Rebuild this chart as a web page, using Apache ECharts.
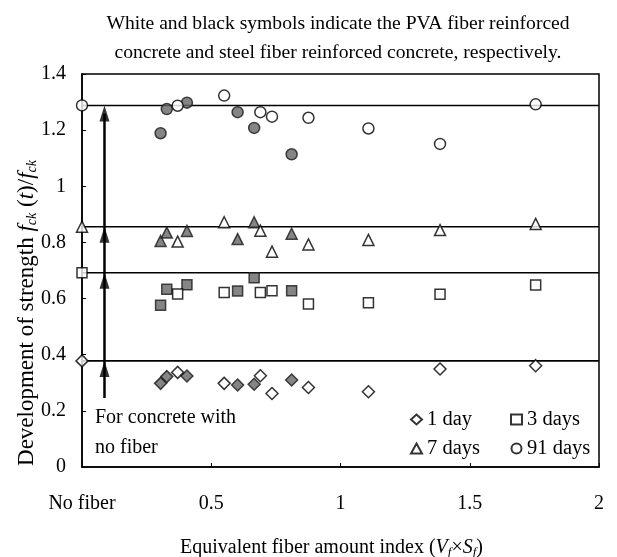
<!DOCTYPE html>
<html>
<head>
<meta charset="utf-8">
<script src="https://cdn.jsdelivr.net/npm/echarts@6/dist/echarts.min.js"></script>
<style>
  html, body { margin: 0; padding: 0; background: #fff; }
  #chart { width: 617px; height: 557px; }
</style>
</head>
<body>
<div id="chart"></div>
<script>
// Equivalent fiber amount index (Vf x Sf) of each mix
const steelX = [0.304, 0.328, 0.406, 0.602, 0.666, 0.811];
const pvaX = [0.370, 0.550, 0.690, 0.735, 0.876, 1.108, 1.385, 1.755];

// Strength ratio fck(t)/fck, steel fiber reinforced concrete (black symbols)
const steel1d = [0.298, 0.322, 0.324, 0.292, 0.295, 0.310];
const steel3d = [0.576, 0.633, 0.649, 0.627, 0.674, 0.628];
const steel7d = [0.805, 0.835, 0.841, 0.812, 0.872, 0.831];
const steel91d = [1.189, 1.275, 1.298, 1.264, 1.208, 1.114];

// Strength ratio fck(t)/fck, PVA fiber reinforced concrete (white symbols)
const pva1d = [0.337, 0.298, 0.325, 0.262, 0.283, 0.268, 0.349, 0.361];
const pva3d = [0.616, 0.622, 0.622, 0.628, 0.581, 0.585, 0.615, 0.648];
const pva7d = [0.803, 0.872, 0.842, 0.767, 0.793, 0.809, 0.844, 0.866];
const pva91d = [1.287, 1.323, 1.264, 1.248, 1.244, 1.206, 1.151, 1.292];

// Concrete with no fiber: 1, 3, 7, 91 days
const noFiber = [0.378, 0.692, 0.856, 1.288];

// Ages, legend labels and symbols
const ages = ['1 day', '3 days', '7 days', '91 days'];
const symbols = ['diamond', 'rect', 'triangle', 'circle'];

// Position of the "no fiber" arrow and its lower end
const arrowX = 0.087;
const arrowBottom = 0.246;

// Tick labels
const xTicks = { 0: 'No fiber', 0.5: '0.5', 1: '1', 1.5: '1.5', 2: '2' };

const serif = '"Liberation Serif", "Times New Roman", serif';

const pair = (xs, ys) => xs.map((x, i) => [x, ys[i]]);
const steelSets = [steel1d, steel3d, steel7d, steel91d];
const pvaSets = [pva1d, pva3d, pva7d, pva91d];
const sizes = [12, 10, 11, 11];

const series = [];

// horizontal reference lines at the no-fiber strengths
noFiber.forEach((v, i) => {
  series.push({
    type: 'line',
    name: 'ref' + i,
    data: [[0, v], [2, v]],
    symbol: 'none',
    silent: true,
    lineStyle: { color: '#000', width: 1.6 },
    z: 1
  });
});

// vertical arrow shaft
series.push({
  type: 'line',
  name: 'arrow',
  data: [[arrowX, arrowBottom], [arrowX, noFiber[3] - 0.03]],
  symbol: 'none',
  silent: true,
  lineStyle: { color: '#000', width: 2.5 },
  z: 2
});
// arrow heads touching each reference line
series.push({
  type: 'scatter',
  name: 'arrowheads',
  data: noFiber.map(v => [arrowX, v]),
  symbol: 'triangle',
  symbolSize: [10, 16],
  symbolOffset: [0, 8],
  silent: true,
  itemStyle: { color: '#000' },
  z: 3
});

ages.forEach((age, i) => {
  // steel fiber (filled)
  series.push({
    type: 'scatter',
    name: age + ' steel',
    data: pair(steelX, steelSets[i]),
    symbol: symbols[i],
    symbolSize: sizes[i],
    itemStyle: { color: '#666', borderColor: '#1a1a1a', borderWidth: 1.5 },
    z: 5
  });
  // PVA fiber and plain concrete (open)
  series.push({
    type: 'scatter',
    name: age,
    data: [[0, noFiber[i]]].concat(pair(pvaX, pvaSets[i])),
    symbol: symbols[i],
    symbolSize: sizes[i],
    clip: false,
    itemStyle: { color: '#fff', borderColor: '#000', borderWidth: 1.5 },
    z: 6
  });
});

const legendBase = {
  orient: 'vertical',
  itemWidth: 11,
  itemHeight: 10,
  itemGap: 8,
  selectedMode: false,
  textStyle: { fontFamily: serif, fontSize: 20.5, color: '#000', lineHeight: 21 }
};

const chart = echarts.init(document.getElementById('chart'));
chart.setOption({
  animation: false,
  backgroundColor: '#fff',
  title: {
    text: 'White and black symbols indicate the PVA fiber reinforced\nconcrete and steel fiber reinforced concrete, respectively.',
    left: 333,
    top: 4,
    textAlign: 'center',
    textStyle: { fontFamily: serif, fontSize: 19.6, fontWeight: 'normal', color: '#000', lineHeight: 29 }
  },
  legend: [
    Object.assign({ left: 405, top: 404, data: [
      { name: ages[0], icon: 'diamond' }, { name: ages[2], icon: 'triangle' }] }, legendBase),
    Object.assign({ left: 505, top: 404, data: [
      { name: ages[1], icon: 'rect' }, { name: ages[3], icon: 'circle' }] }, legendBase)
  ],
  grid: {
    left: 82, right: 18, top: 74, bottom: 90,
    outerBoundsMode: 'none',
    containLabel: false,
    show: true, borderColor: '#000', borderWidth: 1.5, backgroundColor: 'transparent'
  },
  xAxis: {
    type: 'value',
    min: 0, max: 2, interval: 0.5,
    splitLine: { show: false },
    axisLine: { show: true, lineStyle: { color: '#000', width: 1.5 } },
    axisTick: { show: true, inside: true, length: 4, lineStyle: { color: '#000' } },
    axisLabel: {
      margin: 27, color: '#000', fontFamily: serif, fontSize: 20,
      formatter: v => xTicks[v] !== undefined ? xTicks[v] : ''
    },
    name: 'Equivalent fiber amount index ({i|V}{s|f}×{i|S}{s|f})',
    nameLocation: 'middle',
    nameGap: 70,
    nameTextStyle: {
      color: '#000', fontFamily: serif, fontSize: 20, padding: [0, 18, 0, 0],
      rich: {
        i: { fontFamily: serif, fontSize: 20, fontStyle: 'italic', color: '#000' },
        s: { fontFamily: serif, fontSize: 13, fontStyle: 'italic', color: '#000', padding: [9, 0, 0, 0] }
      }
    }
  },
  yAxis: {
    type: 'value',
    min: 0, max: 1.4, interval: 0.2,
    splitLine: { show: false },
    axisLine: { show: true, lineStyle: { color: '#000', width: 1.5 } },
    axisTick: { show: true, inside: true, length: 4, lineStyle: { color: '#000' } },
    axisLabel: { margin: 16, color: '#000', fontFamily: serif, fontSize: 20 }
  },
  graphic: [
    {
      type: 'text',
      x: 27, y: 313,
      rotation: Math.PI / 2,
      style: {
        text: 'Development of strength {i|f}{s|ck}{n| (}{i|t}{n|)/}{i|f}{s|ck}',
        fontFamily: serif, fontSize: 23, fill: '#000',
        align: 'center', verticalAlign: 'middle',
        rich: {
          n: { fontFamily: serif, fontSize: 23, fill: '#000' },
          i: { fontFamily: serif, fontSize: 23, fontStyle: 'italic', fill: '#000' },
          s: { fontFamily: serif, fontSize: 14, fontStyle: 'italic', fill: '#000', padding: [11, 0, 0, 0] }
        }
      }
    },
    {
      type: 'text',
      left: 95, top: 403,
      style: {
        text: 'For concrete with\nno fiber',
        fontFamily: serif, fontSize: 20, fill: '#000', lineHeight: 30
      }
    }
  ],
  series: series
});
</script>
</body>
</html>
